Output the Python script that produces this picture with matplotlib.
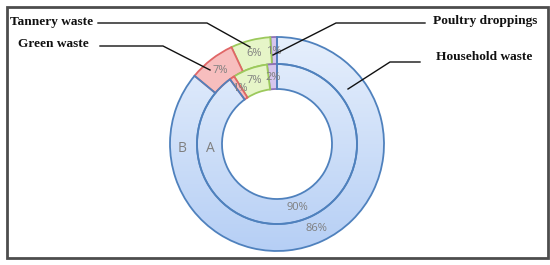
import numpy as np
import matplotlib
matplotlib.use("Agg")
import matplotlib.pyplot as plt
from matplotlib.colors import LinearSegmentedColormap
from matplotlib.patches import Rectangle

categories = ["Poultry droppings", "Tannery waste", "Green waste", "Household waste"]
ring_b = [1, 6, 7, 86]   # outer ring B
ring_a = [2, 7, 1, 90]   # inner ring A
ring_names = ["B", "A"]

face_cols = ["#d6c5ed", "#e6f5c8", "#f7bebe", "none"]
edge_cols = ["#8e72b8", "#9cc95c", "#e06666", "#4f81bd"]

W, H = 550, 265
fig = plt.figure(figsize=(5.5, 2.65), dpi=100)
ax = fig.add_axes([0, 0, 1, 1])

cx, cy = 277, H - 144
R_out, R_mid, R_in = 107, 80, 55

grad = LinearSegmentedColormap.from_list("g", ["#b6cff5", "#e6effc"])

def draw_ring(vals, radius, width, lab_r):
    wedges, _ = ax.pie(vals, radius=radius, center=(cx, cy), startangle=90,
                       counterclock=True,
                       wedgeprops=dict(width=width, linewidth=1.3),
                       labels=None)
    for w, fc, ec, v in zip(wedges, face_cols, edge_cols, vals):
        w.set_edgecolor(ec)
        if fc == "none":
            w.set_facecolor("none")
            w.set_zorder(3)
            img = ax.imshow(np.linspace(0, 1, 256).reshape(-1, 1),
                            extent=(cx - R_out, cx + R_out, cy - R_out, cy + R_out),
                            origin="lower", cmap=grad, aspect="auto", zorder=1)
            img.set_clip_path(w)
        else:
            w.set_facecolor(fc)
            w.set_zorder(2)
        mid = np.deg2rad((w.theta1 + w.theta2) / 2)
        ax.text(cx + lab_r * np.cos(mid), cy + lab_r * np.sin(mid), f"{v}%",
                ha="center", va="center", fontsize=8, color="#7f7f7f",
                family="Open Sans", zorder=5)
    return wedges

draw_ring(ring_b, R_out, R_out - R_mid, 93)
draw_ring(ring_a, R_mid, R_mid - R_in, 67)

ax.text(182, H - 148, ring_names[0], fontsize=10, color="#7f7f7f",
        ha="center", va="center", family="Open Sans", zorder=5)
ax.text(210, H - 148, ring_names[1], fontsize=10, color="#7f7f7f",
        ha="center", va="center", family="Open Sans", zorder=5)

# leader labels
lab_font = dict(family="Liberation Serif", fontweight="bold", fontsize=9.6,
                color="#111111", zorder=6)
ax.text(10, H - 22, categories[1], ha="left", va="center", **lab_font)
ax.text(18, H - 44, categories[2], ha="left", va="center", **lab_font)
ax.text(537, H - 21, categories[0], ha="right", va="center", **lab_font)
ax.text(532, H - 57, categories[3], ha="right", va="center", **lab_font)

lk = dict(color="#111111", lw=1.0, zorder=6)
ax.plot([98, 207, 250], [H - 23, H - 23, H - 47], **lk)
ax.plot([100, 163, 210], [H - 46, H - 46, H - 70], **lk)
ax.plot([425, 336, 273], [H - 23, H - 23, H - 55], **lk)
ax.plot([420, 390, 348], [H - 62, H - 62, H - 89], **lk)

ax.add_patch(Rectangle((7, H - 258), 541, 251, fill=False,
                       edgecolor="#4d4d4d", lw=2.0, zorder=7))

ax.set_xlim(0, W)
ax.set_ylim(0, H)
ax.set_aspect("auto")
ax.axis("off")
fig.savefig("out.png", dpi=100)
